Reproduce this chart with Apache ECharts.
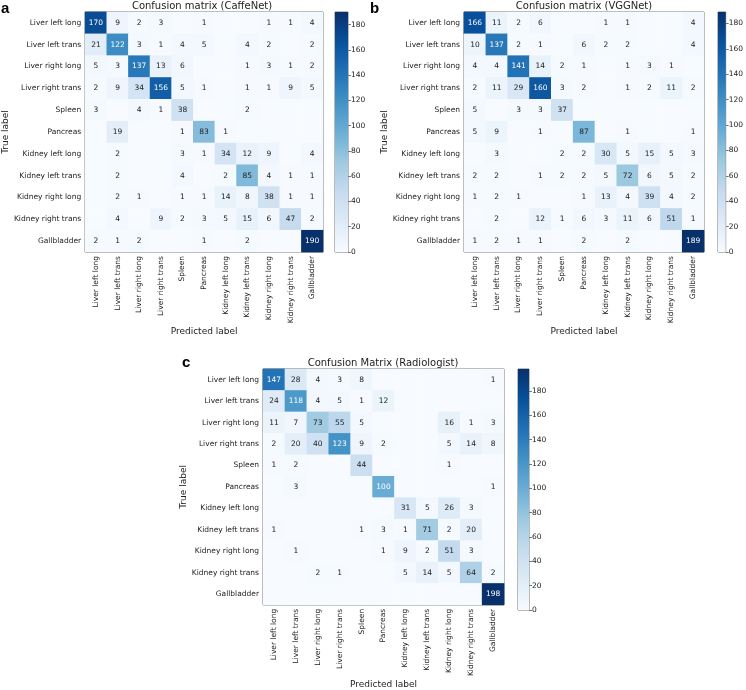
<!DOCTYPE html>
<html>
<head>
<meta charset="utf-8">
<script src="https://cdn.jsdelivr.net/npm/echarts@6/dist/echarts.min.js"></script>
<style>html,body{margin:0;padding:0;background:#fff}#chart{width:746px;height:690px}</style>
</head>
<body>
<div id="chart"></div>
<script>
const categories = ['Liver left long','Liver left trans','Liver right long','Liver right trans','Spleen','Pancreas','Kidney left long','Kidney left trans','Kidney right long','Kidney right trans','Gallbladder'];

const caffeNet = [
  [170, 9, 2, 3, 0, 1, 0, 0, 1, 1, 4],
  [21, 122, 3, 1, 4, 5, 0, 4, 2, 0, 2],
  [5, 3, 137, 13, 6, 0, 0, 1, 3, 1, 2],
  [2, 9, 34, 156, 5, 1, 0, 1, 1, 9, 5],
  [3, 0, 4, 1, 38, 0, 0, 2, 0, 0, 0],
  [0, 19, 0, 0, 1, 83, 1, 0, 0, 0, 0],
  [0, 2, 0, 0, 3, 1, 34, 12, 9, 0, 4],
  [0, 2, 0, 0, 4, 0, 2, 85, 4, 1, 1],
  [0, 2, 1, 0, 1, 1, 14, 8, 38, 1, 1],
  [0, 4, 0, 9, 2, 3, 5, 15, 6, 47, 2],
  [2, 1, 2, 0, 0, 1, 0, 2, 0, 0, 190]
];

const vggNet = [
  [166, 11, 2, 6, 0, 0, 1, 1, 0, 0, 4],
  [10, 137, 2, 1, 0, 6, 2, 2, 0, 0, 4],
  [4, 4, 141, 14, 2, 1, 0, 1, 3, 1, 0],
  [2, 11, 29, 160, 3, 2, 0, 1, 2, 11, 2],
  [5, 0, 3, 3, 37, 0, 0, 0, 0, 0, 0],
  [5, 9, 0, 1, 0, 87, 0, 1, 0, 0, 1],
  [0, 3, 0, 0, 2, 2, 30, 5, 15, 5, 3],
  [2, 2, 0, 1, 2, 2, 5, 72, 6, 5, 2],
  [1, 2, 1, 0, 0, 1, 13, 4, 39, 4, 2],
  [0, 2, 0, 12, 1, 6, 3, 11, 6, 51, 1],
  [1, 2, 1, 1, 0, 2, 0, 2, 0, 0, 189]
];

const radiologist = [
  [147, 28, 4, 3, 8, 0, 0, 0, 0, 0, 1],
  [24, 118, 4, 5, 1, 12, 0, 0, 0, 0, 0],
  [11, 7, 73, 55, 5, 0, 0, 0, 16, 1, 3],
  [2, 20, 40, 123, 9, 2, 0, 0, 5, 14, 8],
  [1, 2, 0, 0, 44, 0, 0, 0, 1, 0, 0],
  [0, 3, 0, 0, 0, 100, 0, 0, 0, 0, 1],
  [0, 0, 0, 0, 0, 0, 31, 5, 26, 3, 0],
  [1, 0, 0, 0, 1, 3, 1, 71, 2, 20, 0],
  [0, 1, 0, 0, 0, 1, 9, 2, 51, 3, 0],
  [0, 0, 2, 1, 0, 0, 5, 14, 5, 64, 2],
  [0, 0, 0, 0, 0, 0, 0, 0, 0, 0, 198]
];

const titles = ['Confusion matrix (CaffeNet)', 'Confusion matrix (VGGNet)', 'Confusion Matrix (Radiologist)'];
const panelLetters = ['a', 'b', 'c'];
const colorbarInterval = 20;

const blues = ['#f7fbff','#deebf7','#c6dbef','#9ecae1','#6baed6','#4292c6','#2171b5','#08519c','#08306b'];
const FONT = 'DejaVu Sans';
const TXT = '#222222';

const matrices = [caffeNet, vggNet, radiologist];
const layout = [
  {grid: {left: 82, top: 12, width: 241, height: 240}, cb: {left: 335, top: 12, width: 13, height: 240}, title: [202, 1], letter: [1, 1], yGap: 56, xGap: 68},
  {grid: {left: 464, top: 12, width: 240, height: 240}, cb: {left: 718, top: 12, width: 12, height: 240}, title: [584, 1], letter: [370, 1], yGap: 70, xGap: 68},
  {grid: {left: 263, top: 369, width: 241, height: 241}, cb: {left: 518, top: 369, width: 11, height: 241}, title: [383, 358], letter: [182, 355], yGap: 60, xGap: 70}
];

const grids = [], xAxes = [], yAxes = [], series = [], visualMaps = [], titleComps = [];

matrices.forEach((m, k) => {
  const maxV = Math.max(...m.flat());
  const L = layout[k];
  const gi = grids.length;
  grids.push(Object.assign({show: true, borderColor: '#555', borderWidth: 1, backgroundColor: 'transparent'}, L.grid));
  xAxes.push({
    type: 'category', gridIndex: gi, data: categories, position: 'bottom',
    name: 'Predicted label', nameLocation: 'middle', nameGap: L.xGap,
    nameTextStyle: {fontFamily: FONT, fontSize: 9, color: TXT},
    axisLine: {show: false}, splitLine: {show: false},
    axisTick: {show: true, alignWithLabel: true, inside: true, length: 3, lineStyle: {color: '#777'}},
    axisLabel: {interval: 0, rotate: 90, fontFamily: FONT, fontSize: 7.5, color: TXT, margin: 4}
  });
  yAxes.push({
    type: 'category', gridIndex: gi, data: categories, inverse: true,
    name: 'True label', nameLocation: 'middle', nameGap: L.yGap, nameRotate: 90,
    nameTextStyle: {fontFamily: FONT, fontSize: 9, color: TXT},
    axisLine: {show: false}, splitLine: {show: false},
    axisTick: {show: true, alignWithLabel: true, inside: true, length: 3, lineStyle: {color: '#777'}},
    axisLabel: {interval: 0, fontFamily: FONT, fontSize: 7.5, color: TXT, margin: 4}
  });
  const data = [];
  m.forEach((row, i) => row.forEach((v, j) => {
    data.push({value: [j, i, v], label: {show: v > 0, color: v > maxV / 2 ? '#ffffff' : TXT}});
  }));
  const si = series.length;
  series.push({
    type: 'heatmap', xAxisIndex: gi, yAxisIndex: gi, data: data,
    label: {show: true, fontFamily: FONT, fontSize: 7.5, formatter: p => p.value[2] > 0 ? String(p.value[2]) : ''},
    emphasis: {disabled: true}, progressive: 0
  });
  visualMaps.push({type: 'continuous', show: false, min: 0, max: maxV, seriesIndex: si, dimension: 2, inRange: {color: blues}});

  // colorbar
  const cbi = grids.length;
  grids.push(Object.assign({show: true, borderColor: '#777', borderWidth: 1, backgroundColor: 'transparent'}, L.cb));
  xAxes.push({type: 'category', gridIndex: cbi, data: [''], show: false});
  yAxes.push({
    type: 'value', gridIndex: cbi, min: 0, max: maxV, interval: colorbarInterval, position: 'right',
    axisLine: {show: false}, splitLine: {show: false},
    axisTick: {show: true, length: 3, lineStyle: {color: '#777'}},
    axisLabel: {fontFamily: FONT, fontSize: 7.5, color: TXT, margin: 3, showMaxLabel: false}
  });
  series.push({
    type: 'bar', xAxisIndex: cbi, yAxisIndex: cbi, data: [maxV], barWidth: '100%', silent: true,
    itemStyle: {color: new echarts.graphic.LinearGradient(0, 1, 0, 0, blues.map((c, idx) => ({offset: idx / (blues.length - 1), color: c})))}
  });

  titleComps.push({text: titles[k], left: L.title[0], top: L.title[1], padding: 0, textAlign: 'center', textStyle: {fontFamily: FONT, fontSize: 10, fontWeight: 'normal', color: TXT}});
  titleComps.push({text: panelLetters[k], left: L.letter[0], top: L.letter[1], padding: 0, textStyle: {fontFamily: 'Liberation Sans', fontSize: 15, fontWeight: 'bold', color: '#000'}});
});

const chart = echarts.init(document.getElementById('chart'), null, {renderer: 'canvas'});
chart.setOption({
  animation: false,
  backgroundColor: '#fff',
  title: titleComps,
  grid: grids, xAxis: xAxes, yAxis: yAxes,
  visualMap: visualMaps,
  series: series
});
</script>
</body>
</html>
